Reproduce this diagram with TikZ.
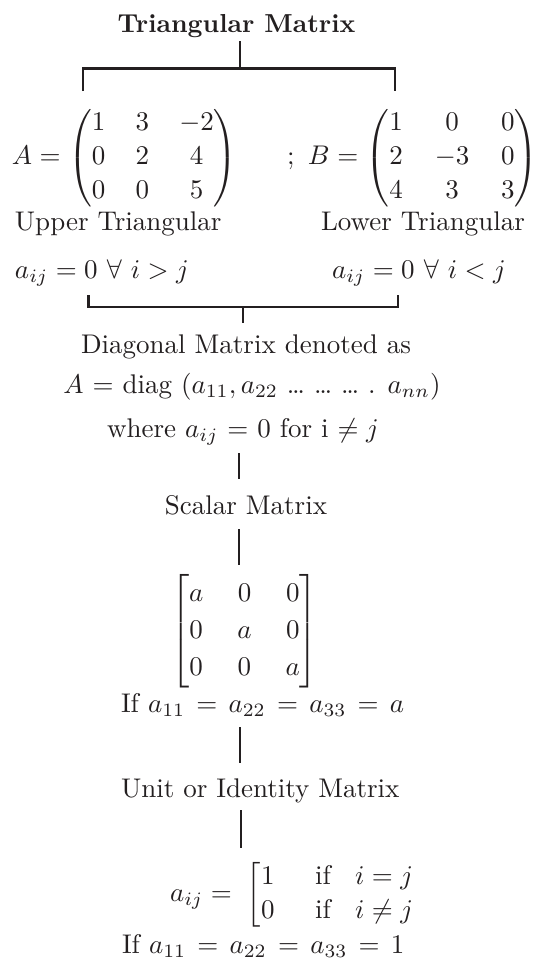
\documentclass[tikz,border=0pt]{standalone}
\usepackage{amsmath}
\definecolor{ink}{HTML}{231F20}
\tikzset{
  txt/.style={inner sep=0pt, outer sep=0pt, text=ink, scale=2.7, transform shape},
  widerel/.style={execute at begin node={\thickmuskip=7.5mu plus 2mu\relax}},
  ttl/.style={inner sep=0pt, outer sep=0pt, text=ink, font=\bfseries, scale=2.6, transform shape},
  conn/.style={draw=ink, line width=2.7pt}
}
\begin{document}
\begin{tikzpicture}[x=1pt,y=-1pt]
\useasboundingbox (0,0) rectangle (539,967);
% title
\node[ttl, anchor=base] (title) at (236.5,32.6) {Triangular Matrix};
% matrices
\node[txt, anchor=west] (matA) at (12,158)
  {\setlength\arraycolsep{5.6pt}\renewcommand\arraystretch{1.05}$A=\begin{pmatrix}1&3&-2\\0&2&4\\0&0&5\end{pmatrix}$};
\node[txt, anchor=west] (matB) at (287,158)
  {\setlength\arraycolsep{5.9pt}\renewcommand\arraystretch{1.05}$;\ B=\begin{pmatrix}1&0&0\\2&-3&0\\4&3&3\end{pmatrix}$};
\node[txt, anchor=base west] (upper) at (15,230.5) {Upper Triangular};
\node[txt, anchor=base west] (lower) at (321,230.5) {Lower Triangular};
\node[txt, anchor=base west] (condU) at (15,278) {$a_{ij}=0\ \forall\ i>j$};
\node[txt, anchor=base west] (condL) at (332,278) {$a_{ij}=0\ \forall\ i<j$};
% diagonal
\node[txt, anchor=base] (diag1) at (246,353) {Diagonal Matrix denoted as};
\node[txt, anchor=base] (diag2) at (252,393) {$A$ = diag ($a_{11},a_{22}$ \textellipsis{} \textellipsis{} \textellipsis{} . $a_{nn}$)};
\node[txt, anchor=base] (diag3) at (243,437) {where $a_{ij}$ = 0 for i $\neq j$};
% scalar
\node[txt, anchor=base] (scalar) at (246,514) {Scalar Matrix};
\node[txt, anchor=center] (smat) at (244.5,631.5)
  {\setlength\arraycolsep{6.3pt}\renewcommand\arraystretch{1.14}$\begin{bmatrix}a&0&0\\0&a&0\\0&0&a\end{bmatrix}$};
\node[txt, widerel, anchor=base west] (if1) at (121,712) {If $a_{11}=a_{22}=a_{33}=a$};
% unit
\node[txt, anchor=base west] (unit) at (121,797) {Unit or Identity Matrix};
\node[txt, anchor=west] (cases) at (170,895)
  {\renewcommand\arraystretch{1.05}$a_{ij}=\;\left[\begin{array}{@{}l@{\hskip 15pt}l@{\hskip 9pt}l@{}}1&\text{if}&i=j\\0&\text{if}&i\neq j\end{array}\right.$};
\node[txt, widerel, anchor=base west] (if2) at (122,953) {If $a_{11}=a_{22}=a_{33}=1$};
% connectors
\coordinate (t0) at (240,41);
\coordinate (t1) at (240,68.7);
\coordinate (tl) at (83,68.7);
\coordinate (tr) at (395,68.7);
\coordinate (tlb) at (83,91);
\coordinate (trb) at (395,91);
\draw[conn] (t0) -- (t1);
\draw[conn] (tlb) -- (tl) -- (tr) -- (trb);
\coordinate (bl0) at (88.7,295);
\coordinate (bl1) at (88.7,307);
\coordinate (br1) at (398,307);
\coordinate (br0) at (398,295);
\coordinate (bc0) at (243,307);
\coordinate (bc1) at (243,323);
\draw[conn] (bl0) -- (bl1) -- (br1) -- (br0);
\draw[conn] (bc0) -- (bc1);
\coordinate (s0) at (239,453);
\coordinate (s1) at (239,479);
\draw[conn] (s0) -- (s1);
\coordinate (s2) at (239,529);
\coordinate (s3) at (239,565);
\draw[conn] (s2) -- (s3);
\coordinate (u0) at (240,727);
\coordinate (u1) at (240,763);
\draw[conn] (u0) -- (u1);
\coordinate (u2) at (241,810);
\coordinate (u3) at (241,848);
\draw[conn] (u2) -- (u3);
\end{tikzpicture}
\end{document}
